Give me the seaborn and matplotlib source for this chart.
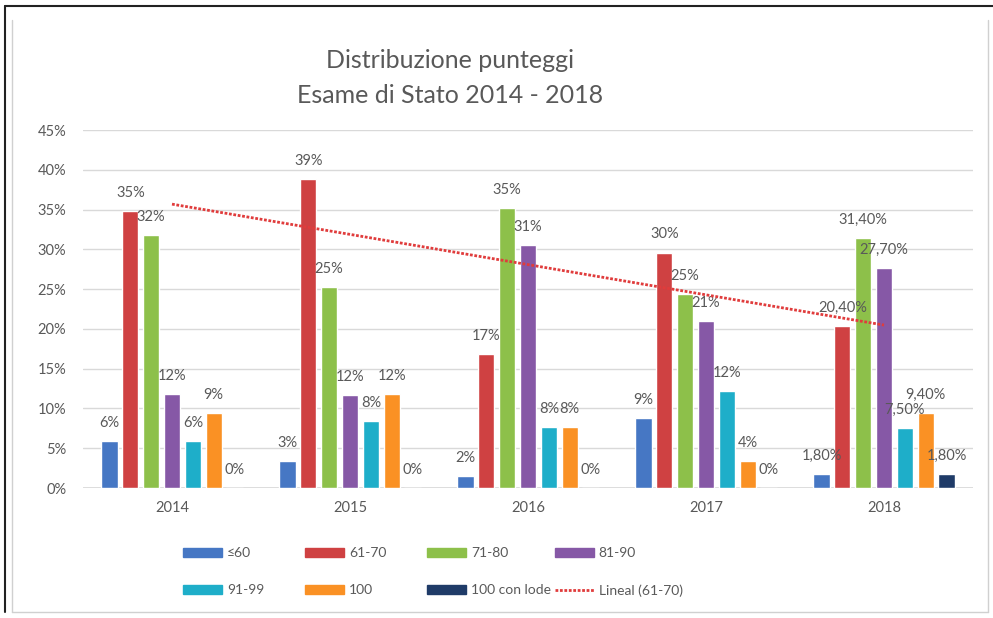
import seaborn as sns
import pandas as pd
import numpy as np
import matplotlib
matplotlib.use("Agg")
import matplotlib.pyplot as plt
from matplotlib.lines import Line2D
from matplotlib.patches import Patch

sns.set_style("white")
plt.rcParams['font.family'] = ['Lato', 'DejaVu Sans']

years = ['2014', '2015', '2016', '2017', '2018']
bands = ['≤60', '61-70', '71-80', '81-90', '91-99', '100', '100 con lode']
colors = ['#4677c4', '#cf4142', '#8dc04a', '#8658a6', '#1eaec9', '#fa9124', '#1f3b68']

v_le60 = [5.9, 3.4, 1.5, 8.8, 1.8]
v_61_70 = [34.8, 38.8, 16.8, 29.6, 20.4]
v_71_80 = [31.8, 25.3, 35.2, 24.4, 31.4]
v_81_90 = [11.8, 11.7, 30.5, 21.0, 27.7]
v_91_99 = [5.9, 8.4, 7.7, 12.2, 7.5]
v_100 = [9.4, 11.8, 7.7, 3.4, 9.4]
v_lode = [0, 0, 0, 0, 1.8]

lab_le60 = ['6%', '3%', '2%', '9%', '1,80%']
lab_61_70 = ['35%', '39%', '17%', '30%', '20,40%']
lab_71_80 = ['32%', '25%', '35%', '25%', '31,40%']
lab_81_90 = ['12%', '12%', '31%', '21%', '27,70%']
lab_91_99 = ['6%', '8%', '8%', '12%', '7,50%']
lab_100 = ['9%', '12%', '8%', '4%', '9,40%']
lab_lode = ['0%', '0%', '0%', '0%', '1,80%']

values = [v_le60, v_61_70, v_71_80, v_81_90, v_91_99, v_100, v_lode]
labels = [lab_le60, lab_61_70, lab_71_80, lab_81_90, lab_91_99, lab_100, lab_lode]

rows = []
for b, vals in zip(bands, values):
    for y, v in zip(years, vals):
        rows.append({'year': y, 'band': b, 'value': v})
df = pd.DataFrame(rows)

grey = '#595959'
fig = plt.figure(figsize=(9.93, 6.18), dpi=100)
ax = fig.add_axes([83/993, 1-488/618, 890/993, 358/618])

sns.barplot(data=df, x='year', y='value', hue='band', hue_order=bands,
            palette=colors, width=0.82, gap=0.22, legend=False, ax=ax,
            saturation=1, errorbar=None)

for cont, labs in zip(ax.containers, labels):
    ax.bar_label(cont, labels=labs, padding=8, fontsize=10.5, color=grey)

# linear trend on 61-70
xs = np.arange(len(years))
k, q = np.polyfit(xs, v_61_70, 1)
ax.plot(xs, k*xs + q, color='#e03c3c', lw=2, ls=(0, (1, 0.6)), zorder=5)

ax.set_xlim(-0.5, 4.5)
ax.set_ylim(0, 45)
ax.set_yticks(range(0, 50, 5))
ax.set_yticklabels([f'{t}%' for t in range(0, 50, 5)])
ax.yaxis.grid(True, color='#d9d9d9', lw=1)
ax.set_axisbelow(True)
for s in ax.spines.values():
    s.set_visible(False)
ax.axhline(0, color='#d9d9d9', lw=1.2, zorder=0)
ax.tick_params(axis='y', length=0, pad=12, labelsize=10.5, labelcolor=grey)
ax.tick_params(axis='x', length=0, pad=9, labelsize=10.5, labelcolor=grey)
ax.set_xlabel('')
ax.set_ylabel('')

fig.text(0.453, 0.902, 'Distribuzione punteggi', ha='center', va='center',
         fontsize=18, color=grey)
fig.text(0.453, 0.846, 'Esame di Stato 2014 - 2018', ha='center', va='center',
         fontsize=18, color=grey)

# legend, one column at a time
trend_handle = Line2D([], [], color='#e03c3c', lw=2, ls=(0, (1, 0.6)))
handles = [Patch(color=c) for c in colors] + [trend_handle]
names = bands + ['Lineal (61-70)']
col_x = [183, 305, 427, 555]
for i, x0 in enumerate(col_x):
    hs = [handles[i], handles[i + 4]]
    ns = [names[i], names[i + 4]]
    fig.legend(hs, ns, loc='upper left', bbox_to_anchor=(x0/993, 1-547/618),
               frameon=False, fontsize=10, labelcolor=grey,
               handlelength=2.8, handleheight=0.6, handletextpad=0.35,
               labelspacing=1.8, borderpad=0, borderaxespad=0)

# frame lines
fig.add_artist(Line2D([5/993, 1], [1-6/618, 1-6/618], color='#222222', lw=1.5))
fig.add_artist(Line2D([5/993, 5/993], [1-6/618, 1-612/618], color='#222222', lw=1.5))
fig.add_artist(Line2D([12/993, 12/993], [1-20/618, 1-612/618], color='#d0d0d0', lw=1))
fig.add_artist(Line2D([988/993, 988/993], [1-20/618, 1-612/618], color='#d0d0d0', lw=1))
fig.add_artist(Line2D([12/993, 988/993], [1-612/618, 1-612/618], color='#d0d0d0', lw=1))

fig.savefig('out.png', dpi=100)
